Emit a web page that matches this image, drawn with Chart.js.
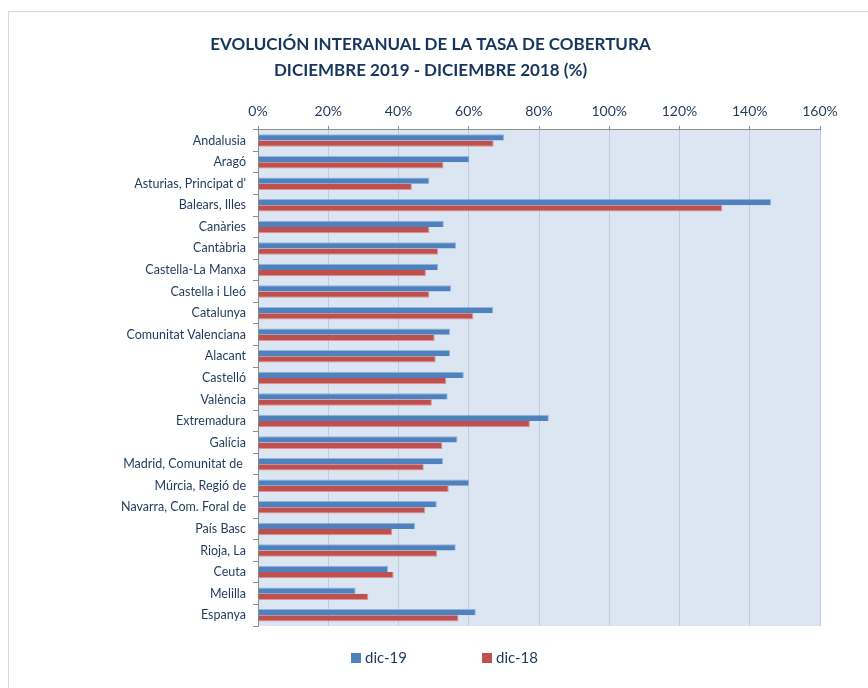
<!DOCTYPE html>
<html><head><meta charset="utf-8">
<script src="https://cdn.jsdelivr.net/npm/chart.js@4/dist/chart.umd.min.js"></script>
<style>
html,body{margin:0;padding:0;background:#fff;overflow:hidden;width:868px;height:688px}
#frame{position:absolute;left:8px;top:11px;width:900px;height:720px;border:1px solid #d9d9d9;box-sizing:border-box}
#c{position:absolute;left:0;top:0}
</style></head><body>
<div id="frame"></div>
<canvas id="c" width="868" height="688"></canvas>
<script>
const categories = ["Andalusia","Aragó","Asturias, Principat d'","Balears, Illes","Canàries","Cantàbria","Castella-La Manxa","Castella i Lleó","Catalunya","Comunitat Valenciana","Alacant","Castelló","València","Extremadura","Galícia","Madrid, Comunitat de ","Múrcia, Regió de","Navarra, Com. Foral de","País Basc","Rioja, La","Ceuta","Melilla","Espanya"];
const dic19 = [70.1,60.2,48.8,146.1,52.9,56.4,51.3,55.0,67.0,54.7,54.7,58.6,54.0,82.8,56.8,52.7,60.1,50.9,44.7,56.3,37.0,27.8,62.0];
const dic18 = [67.1,52.8,43.8,132.2,48.8,51.3,47.8,48.8,61.3,50.3,50.6,53.6,49.5,77.4,52.5,47.2,54.3,47.6,38.2,51.0,38.6,31.4,57.1];
const seriesNames = ["dic-19","dic-18"];
const xTicks = [0,20,40,60,80,100,120,140,160];
const titleLines = ["EVOLUCIÓN INTERANUAL DE LA TASA DE COBERTURA","DICIEMBRE 2019 - DICIEMBRE 2018 (%)"];

const NAVY = '#1f3a5c';
const plotBg = {
  id:'plotBg',
  beforeDraw(chart){
    const {ctx, chartArea:a} = chart;
    ctx.save(); ctx.fillStyle = '#dce6f2';
    ctx.fillRect(a.left, a.top, a.right-a.left, a.bottom-a.top);
    ctx.restore();
  }
};
const customLegend = {
  id:'customLegend',
  afterDraw(chart){
    const ctx = chart.ctx;
    ctx.save();
    ctx.font = '15px Lato';
    ctx.textBaseline = 'middle';
    const ds = chart.data.datasets;
    const gap = 75, box = 10, tg = 4;
    const widths = ds.map(d => box + tg + ctx.measureText(d.label).width);
    const total = widths.reduce((s,w)=>s+w,0) + gap*(ds.length-1);
    let x = 444.5 - total/2;
    const y = 658;
    ds.forEach((d,i) => {
      ctx.fillStyle = d.backgroundColor;
      ctx.fillRect(x, y-5, box, box);
      ctx.fillStyle = NAVY;
      ctx.fillText(d.label, x+box+tg, y);
      x += widths[i] + gap;
    });
    ctx.restore();
  }
};

new Chart(document.getElementById('c'), {
  type:'bar',
  data:{
    labels: categories,
    datasets:[
      {label: seriesNames[0], data: dic19, backgroundColor:'#4f81bd', borderColor:'rgba(140,175,220,0.9)', borderWidth:{top:1,right:1,bottom:0,left:0}, borderSkipped:'start'},
      {label: seriesNames[1], data: dic18, backgroundColor:'#c0504d', borderColor:'rgba(220,140,138,0.9)', borderWidth:{top:0,right:1,bottom:1,left:0}, borderSkipped:'start'}
    ]
  },
  options:{
    indexAxis:'y',
    responsive:false,
    animation:false,
    categoryPercentage:0.58,
    barPercentage:1,
    layout:{padding:{left:41,right:48,top:0,bottom:62}},
    plugins:{
      legend:{display:false},
      tooltip:{enabled:false},
      title:{display:true, text:titleLines, color:'#17365d', font:{family:'Lato', size:17, weight:'bold', lineHeight:1.5}, padding:{top:32,bottom:14}}
    },
    scales:{
      x:{
        position:'top', min:0, max:160,
        afterBuildTicks(s){ s.ticks = xTicks.map(v=>({value:v})); },
        ticks:{color:NAVY, font:{family:'Lato', size:14}, padding:6, callback:v=>v+'%'},
        grid:{color:'#b9cde5', lineWidth:1, tickColor:'#8c8c8c', tickLength:4, drawTicks:true},
        border:{display:true, color:'#8c8c8c'}
      },
      y:{
        afterFit(s){ s.width = 217; },
        ticks:{color:NAVY, font:{family:'Lato', size:12.5}, padding:7, autoSkip:false},
        grid:{offset:true, drawOnChartArea:false, tickColor:'#8c8c8c', tickLength:5},
        border:{display:true, color:'#8c8c8c'}
      }
    }
  },
  plugins:[plotBg, customLegend]
});
</script>
</body></html>
